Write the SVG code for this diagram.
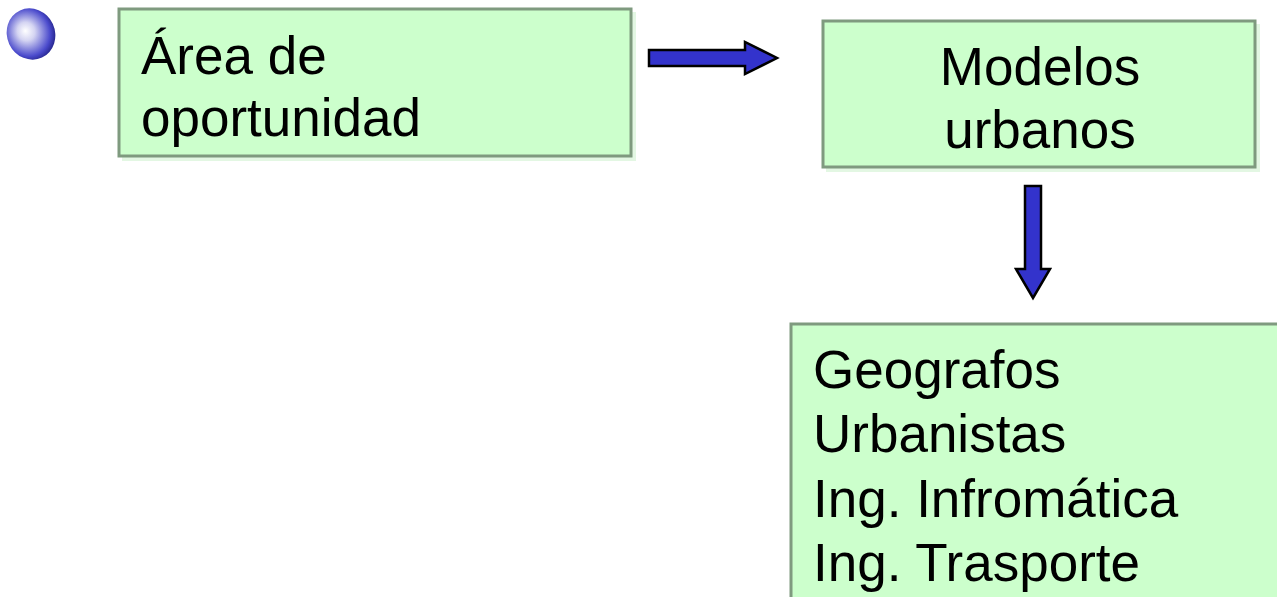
<svg xmlns="http://www.w3.org/2000/svg" width="1277" height="597" viewBox="0 0 1277 597">
<defs>
<style>
.box{fill:#ccffcc;stroke:#7f9a7f;stroke-width:3}
.shadow{fill:#e3f7e3}
.t{font-family:"Liberation Sans",Arial,sans-serif;font-size:53px;fill:#000}
.arrow{fill:#3333cc;stroke:#000;stroke-width:2.5;stroke-linejoin:miter}
</style>
<radialGradient id="ball" cx="0.45" cy="0.45" r="0.6" fx="0.42" fy="0.4">
<stop offset="0" stop-color="#ffffff"/>
<stop offset="0.3" stop-color="#d4d4f2"/>
<stop offset="0.78" stop-color="#4a4acc"/>
<stop offset="1" stop-color="#1e1e80"/>
</radialGradient>
</defs>
<rect width="1277" height="597" fill="#fff"/>
<g id="bullet">
<ellipse cx="31" cy="34" rx="24" ry="26" transform="rotate(-25 31 34)" fill="url(#ball)"/>
</g>
<g id="node-area">
<rect class="shadow" x="122" y="12" width="514" height="149"/>
<rect class="box" x="119" y="9" width="512" height="147"/>
<text class="t" x="141" y="74">Área de</text>
<text class="t" x="141" y="136">oportunidad</text>
</g>
<g id="node-modelos">
<rect class="shadow" x="826" y="24" width="434" height="148"/>
<rect class="box" x="823" y="21" width="432" height="146"/>
<text class="t" x="1040" y="85" text-anchor="middle">Modelos</text>
<text class="t" x="1040" y="148" text-anchor="middle">urbanos</text>
</g>
<g id="node-profesiones">
<rect class="shadow" x="794" y="327" width="490" height="280"/>
<rect class="box" x="791" y="324" width="490" height="280"/>
<text class="t" x="813" y="388">Geografos</text>
<text class="t" x="813" y="452">Urbanistas</text>
<text class="t" x="813" y="517">Ing. Infromática</text>
<text class="t" x="813" y="581">Ing. Trasporte</text>
</g>
<g id="connectors">
<polygon class="arrow" points="649,50 745,50 745,42 777,58 745,74 745,66 649,66"/>
<polygon class="arrow" points="1025,186 1041,186 1041,269 1050,269 1033,298 1016,269 1025,269"/>
</g>
</svg>
